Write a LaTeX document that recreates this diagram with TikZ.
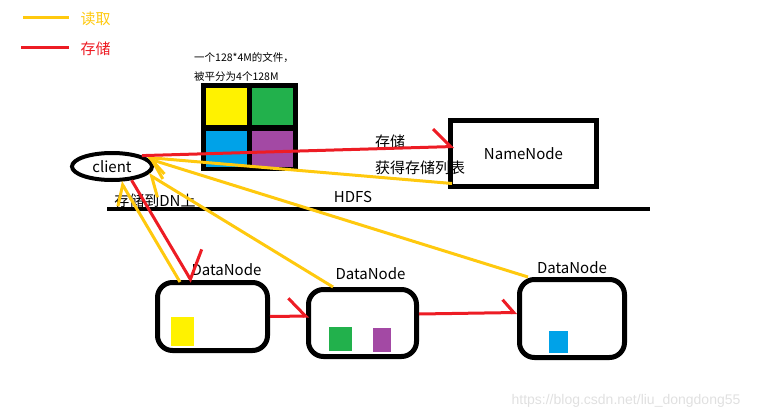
\documentclass[tikz,border=0pt]{standalone}
\usepackage{xcolor}
\usepackage{fontspec}
\setmainfont{Noto Sans CJK SC}
\newfontfamily\markfont{Liberation Sans}
\usepackage{tikz}
\usetikzlibrary{shapes,arrows.meta,positioning}

\definecolor{readyellow}{HTML}{FFC90E}
\definecolor{storered}{HTML}{ED1C24}
\definecolor{blockyellow}{HTML}{FFF200}
\definecolor{blockgreen}{HTML}{22B14C}
\definecolor{blockblue}{HTML}{00A2E8}
\definecolor{blockpurple}{HTML}{A349A4}

\begin{document}
\begin{tikzpicture}[x=1pt,y=-1pt]

\tikzstyle{txt} = [font=\fontsize{15pt}{18pt}\selectfont, inner sep=0pt]
\tikzstyle{small} = [font=\fontsize{10.5pt}{12pt}\selectfont, inner sep=0pt, anchor=west]
\tikzstyle{namebox} = [rectangle, minimum width=146pt, minimum height=66pt, draw=black, line width=5pt, txt]
\tikzstyle{datanode} = [rectangle, rounded corners=15pt, draw=black, line width=5pt]
\tikzstyle{dntext} = [txt, anchor=south]
\tikzstyle{readline} = [draw=readyellow, line width=3pt]
\tikzstyle{storeline} = [draw=storered, line width=3pt]
\tikzstyle{readarrow} = [readline, -{Straight Barb[harpoon,length=16pt,width=30pt]}]
\tikzstyle{storearrow} = [storeline, -{Straight Barb[harpoon,length=17pt,width=36pt]}]

\useasboundingbox (0,0) rectangle (766,420);

% legend
\coordinate (readstart) at (23,18);
\coordinate (storestart) at (21,48);
\node (readtext) [txt, text=readyellow] at (95.5,19) {读取};
\node (storetext) [txt, text=storered] at (95.5,49) {存储};
\draw [readline] (readstart) -- (69,18);
\draw [storeline] (storestart) -- (69,48);

% the file
\node (filetext1) [small] at (194,58) {一个128*4M的文件，};
\node (filetext2) [small] at (194,77) {被平分为4个128M};
\fill [black] (201,83) rectangle (298,171);
\fill [blockyellow] (206,88) rectangle (247,125);
\fill [blockgreen] (252,88) rectangle (293,125);
\fill [blockblue] (206,131) rectangle (247,167);
\fill [blockpurple] (252,131) rectangle (293,167);

% nodes
\node (client) [ellipse, draw=black, line width=4pt, minimum width=80pt, minimum height=27pt, inner sep=0pt, txt] at (112,166.5) {client};
\node (namenode) [namebox, text depth=0pt] at (523.5,153.5) {NameNode};
\node (dn1) [datanode, minimum width=110pt, minimum height=68pt] at (212.5,316.5) {};
\node (dn2) [datanode, minimum width=108pt, minimum height=67pt] at (362.5,323) {};
\node (dn3) [datanode, minimum width=105pt, minimum height=78pt] at (572,318.5) {};
\node (dn1name) [dntext] at ([xshift=14pt,yshift=4pt]dn1.north) {DataNode};
\node (dn2name) [dntext] at ([xshift=8pt,yshift=7pt]dn2.north) {DataNode};
\node (dn3name) [dntext] at ([xshift=0pt,yshift=3pt]dn3.north) {DataNode};

% blocks on the DataNodes
\fill [blockyellow] (171,317) rectangle (194,346);
\fill [blockgreen] (329,327) rectangle (352,351);
\fill [blockpurple] (373,328) rectangle (391,352);
\fill [blockblue] (549,331) rectangle (568,353);

% HDFS
\draw [line width=4pt] (107,209) -- (650,209);
\node (hdfs) [txt] at (353,197) {HDFS};
\node (todn) [txt] at (155,201) {存储到DN上};
\node (store) [txt] at (390,142) {存储};
\node (getlist) [txt] at (420,168) {获得存储列表};

% connectors
\draw [readarrow] ([xshift=4pt,yshift=-30pt]namenode.west) -- (client.15);
\draw [readarrow] ([xshift=11pt]dn3.north west) -- (client.12);
\draw [readarrow] ([xshift=27pt]dn2.north west) -- (client.-12);
\draw [readarrow] ([xshift=25pt,yshift=-2pt]dn1.north west) -- (client.-60);
\draw [storearrow] (client.20) -- ([xshift=6pt,yshift=7pt]namenode.west);
\draw [storeline, -{Straight Barb[harpoon,length=20pt,width=50pt]}] (client.-35) -- ([xshift=37pt,yshift=-2pt]dn1.north west);
\draw [storearrow] (dn1.east) -- ([xshift=3pt,yshift=7pt]dn2.west);
\draw [storeline, -{Straight Barb[harpoon,length=11pt,width=26pt]}] ([yshift=9pt]dn2.east) -- ([yshift=6pt]dn3.west);

\node (mark) [font=\markfont\fontsize{14pt}{16pt}\selectfont, text=black!12] at (626,401) {https://blog.csdn.net/liu\_dongdong55};

\end{tikzpicture}
\end{document}
